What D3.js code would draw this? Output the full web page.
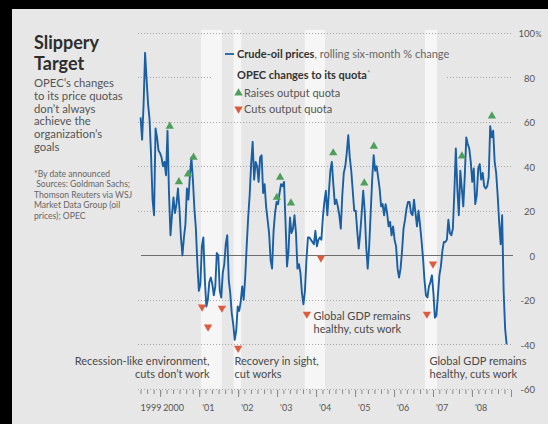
<!DOCTYPE html>
<html>
<head>
<meta charset="utf-8">
<script src="https://cdn.jsdelivr.net/npm/d3@7"></script>
<style>
  html, body { margin: 0; padding: 0; background: #e7e7e7; }
  svg { display: block; font-family: Lato, "Open Sans", sans-serif; }
</style>
</head>
<body>
<svg id="chart" width="548" height="424"></svg>
<script>
// Crude-oil price, rolling six-month % change, sampled every two weeks from 1999-07-02
const seriesStart = "1999-07-02";
const seriesStepDays = 14;
const oilChange = [
  62, 52, 68, 91, 79, 68, 61, 45, 25, 18,
  57, 53, 47, 46, 44, 40, 42, 36, 56, 28,
  9, 18, 26, 19, 23, 30, 21, 8, 0, 8,
  14, 30, 25, 36, 44, 34, 21, 12, -4, -16,
  -13, 4, 8, -11, -23, -20, -12, -10, -13, -18,
  -14, 1, 0, -16, -19, -8, -4, 5, 9, -11,
  -17, -26, -31, -38, -34, -23, -25, -21, -14, -20,
  -10, 4, 17, 27, 41, 51, 34, 42, 40, 33,
  44, 45, 28, 32, 22, 16, 10, -2, -6, 11,
  19, 24, 23, 28, 32, 31, 33, 15, -5, 2,
  17, 10, 12, 18, 10, -6, -4, -8, -17, -22,
  -16, -2, 8, 8, 7, 6, 5, 11, 4, 7,
  8, 7, 17, 24, 29, 18, 28, 38, 42, 32,
  23, 25, 22, 18, 12, 27, 37, 40, 46, 54,
  44, 38, 29, 20, 20, 11, 3, 10, 19, 29,
  20, 4, -6, 4, 19, 34, 45, 38, 40, 35,
  30, 22, 23, 18, 23, 19, 13, 15, 9, 13,
  7, 4, -6, -10, -6, 2, 12, 16, 21, 24,
  24, 19, 18, 25, 19, 13, 20, 14, 7, -1,
  -11, -18, -19, -14, -12, -9, -17, -28, -27, -18,
  -9, -5, 2, 6, 6, 7, 16, 10, 9, 12,
  28, 48, 30, 18, 38, 30, 22, 36, 53, 50,
  48, 42, 33, 39, 23, 27, 39, 41, 34, 37,
  31, 30, 31, 35, 58, 53, 56, 42, 37, 27,
  15, 5, 18, -16, -33, -40
];

// OPEC quota decisions, by date announced, with marker level (%)
const raiseDates = ["2000-03-31", "2000-06-25", "2000-09-19", "2000-11-09", "2002-12-30", "2003-01-29",
                    "2003-05-11", "2004-06-10", "2005-03-28", "2005-06-26", "2007-09-29", "2008-07-06"];
const raiseLevels = [58, 33, 36.5, 44, 26, 35, 23.5, 46, 32.5, 49, 44.6, 62.6];
const cutDates = ["2001-01-28", "2001-03-25", "2001-08-02", "2002-01-01",
                  "2003-10-07", "2004-02-16", "2006-11-05", "2007-01-01"];
const cutLevels = [-23.2, -32.2, -23.7, -41.7, -26.4, -1.2, -26.4, -3.9];

// Highlighted periods of production cuts
const bandStarts = ["2001-01-19", "2001-11-19", "2003-09-18", "2006-10-17"];
const bandEnds   = ["2001-08-02", "2002-01-29", "2004-03-25", "2007-02-07"];

const yTicks = [100, 80, 60, 40, 20, 0, -20, -40, -60];
const xTickYears = [1999, 2000, 2001, 2002, 2003, 2004, 2005, 2006, 2007, 2008];
const xTickLabels = ["1999", "2000", "'01", "'02", "'03", "'04", "'05", "'06", "'07", "'08"];

const parse = d3.timeParse("%Y-%m-%d");
const t0 = parse(seriesStart);
const series = oilChange.map((v, i) => ({ date: d3.timeDay.offset(t0, i * seriesStepDays), value: v }));
const raises = raiseDates.map((d, i) => ({ date: parse(d), value: raiseLevels[i] }));
const cuts = cutDates.map((d, i) => ({ date: parse(d), value: cutLevels[i] }));
const bands = bandStarts.map((d, i) => ({ start: parse(d), end: parse(bandEnds[i]) }));

const svg = d3.select("#chart");
const W = 548, H = 424;

const x = d3.scaleTime().domain([new Date(1999, 6, 1), new Date(2009, 0, 1)]).range([140.5, 511]);
const y = d3.scaleLinear().domain([-60, 100]).range([388.8, 32.8]);

svg.append("rect").attr("width", W).attr("height", H).attr("fill", "#e7e7e7");

// highlighted bands
svg.append("g").selectAll("rect").data(bands).join("rect")
  .attr("x", d => x(d.start))
  .attr("width", d => x(d.end) - x(d.start))
  .attr("y", y(100) - 3)
  .attr("height", y(-60) - y(100) + 3)
  .attr("fill", "#f6f6f6");

// gridlines
const grid = svg.append("g");
yTicks.filter(v => v !== 0).forEach(v => {
  const segs = v === 80 ? [[138, 211], [447, 513]] : [[138, 513]];
  segs.forEach(([a, b]) => {
    grid.append("line")
      .attr("x1", a).attr("x2", b)
      .attr("y1", Math.round(y(v)) + 0.5).attr("y2", Math.round(y(v)) + 0.5)
      .attr("stroke", "#a4a4a4").attr("stroke-width", 1)
      .attr("stroke-dasharray", "1,2");
  });
});
grid.append("line")
  .attr("x1", 141).attr("x2", 513)
  .attr("y1", Math.round(y(0)) + 0.5).attr("y2", Math.round(y(0)) + 0.5)
  .attr("stroke", "#6e6e6e").attr("stroke-width", 1);

// y labels on the right
const yl = svg.append("g").attr("font-size", 9.5).attr("fill", "#555");
yTicks.forEach(v => {
  yl.append("text").attr("x", 535).attr("y", y(v) + 4.2).attr("text-anchor", "end").text(v);
  if (v === 100) {
    yl.append("text").attr("x", 535.5).attr("y", y(v) + 4.2).attr("font-size", 7.5).text("%");
  }
});

// x axis ticks
const axis = svg.append("g").attr("transform", `translate(0,${Math.round(y(-60)) + 1})`);
axis.append("g").call(
  d3.axisBottom(x).tickValues(d3.timeMonth.every(2).range(new Date(1999, 6, 1), new Date(2009, 0, 2)))
    .tickSize(4).tickFormat(""));
axis.append("g").call(
  d3.axisBottom(x).tickValues(d3.timeYear.range(new Date(2000, 0, 1), new Date(2009, 0, 2)))
    .tickSize(7).tickFormat(""));
axis.selectAll(".domain").remove();
axis.selectAll(".tick line").attr("stroke", "#8a8a8a");

svg.append("g").attr("font-size", 9).attr("fill", "#555")
  .selectAll("text").data(xTickYears).join("text")
  .attr("x", (yr, i) => i === 0 ? x(new Date(1999, 6, 1)) : x(new Date(yr, 0, 1)) + 3)
  .attr("y", 411)
  .text((yr, i) => xTickLabels[i]);

// oil line
svg.append("path").datum(series)
  .attr("fill", "none")
  .attr("stroke", "#1b5fa3")
  .attr("stroke-width", 1.9)
  .attr("stroke-linejoin", "round")
  .attr("d", d3.line().x(d => x(d.date)).y(d => y(d.value)));

// quota markers
const tri = d3.symbol(d3.symbolTriangle, 30);
svg.append("g").selectAll("path").data(raises).join("path")
  .attr("d", tri)
  .attr("transform", d => `translate(${x(d.date)},${y(d.value)})`)
  .attr("fill", "#4e9f5c");
svg.append("g").selectAll("path").data(cuts).join("path")
  .attr("d", tri)
  .attr("transform", d => `translate(${x(d.date)},${y(d.value)}) rotate(180)`)
  .attr("fill", "#dd5c40");

// legend
const lg = svg.append("g");
lg.append("line").attr("x1", 225).attr("x2", 234).attr("y1", 54).attr("y2", 54)
  .attr("stroke", "#1b5fa3").attr("stroke-width", 1.8);
const l1 = lg.append("text").attr("x", 237).attr("y", 57.5).attr("font-size", 11);
l1.append("tspan").attr("font-weight", 700).attr("fill", "#333").text("Crude-oil prices");
l1.append("tspan").attr("fill", "#666").text(", rolling six-month % change");
const l2 = lg.append("text").attr("x", 237).attr("y", 78.5).attr("font-size", 11);
l2.append("tspan").attr("font-weight", 700).attr("fill", "#333").text("OPEC changes to its quota");
l2.append("tspan").attr("fill", "#888").attr("font-size", 8).attr("dy", -3).text("*");
lg.append("path").attr("d", tri).attr("transform", "translate(238.5,93)").attr("fill", "#4e9f5c");
lg.append("text").attr("x", 244).attr("y", 96.5).attr("font-size", 11).attr("fill", "#555").text("Raises output quota");
lg.append("path").attr("d", tri).attr("transform", "translate(238.5,109) rotate(180)").attr("fill", "#dd5c40");
lg.append("text").attr("x", 244).attr("y", 113).attr("font-size", 11).attr("fill", "#555").text("Cuts output quota");

// annotations
const ann = svg.append("g").attr("font-size", 11).attr("fill", "#4a4a4a");
function note(xp, yp, lines, anchor) {
  lines.forEach((s, i) => ann.append("text").attr("x", xp).attr("y", yp + i * 13.3)
    .attr("text-anchor", anchor).text(s));
}
note(209.5, 365, ["Recession-like environment,", "cuts don\u2019t work"], "end");
note(234.5, 365, ["Recovery in sight,", "cut works"], "start");
note(313.5, 320, ["Global GDP remains", "healthy, cuts work"], "start");
note(429.5, 365, ["Global GDP remains", "healthy, cuts work"], "start");

// title block
const tb = svg.append("g");
tb.append("text").attr("x", 34).attr("y", 48.5).attr("font-size", 18)
  .attr("font-weight", 700).attr("fill", "#2e2e2e").text("Slippery");
tb.append("text").attr("x", 34).attr("y", 70.3).attr("font-size", 18)
  .attr("font-weight", 700).attr("fill", "#2e2e2e").text("Target");
["OPEC\u2019s changes", "to its price quotas", "don\u2019t always", "achieve the", "organization\u2019s", "goals"]
  .forEach((s, i) => tb.append("text").attr("x", 34).attr("y", 87.3 + i * 12.7)
    .attr("font-size", 11.3).attr("fill", "#555").text(s));
["*By date announced", "\u00a0Sources: Goldman Sachs;", "Thomson Reuters via WSJ", "Market Data Group (oil", "prices); OPEC"]
  .forEach((s, i) => tb.append("text").attr("x", 34).attr("y", 177 + i * 10.4)
    .attr("font-size", 8.6).attr("fill", "#666").text(s));

// frame
svg.append("rect").attr("x", 0).attr("y", 0).attr("width", W).attr("height", 9).attr("fill", "#000");
svg.append("rect").attr("x", 0).attr("y", 0).attr("width", 12).attr("height", H).attr("fill", "#000");
</script>
</body>
</html>
